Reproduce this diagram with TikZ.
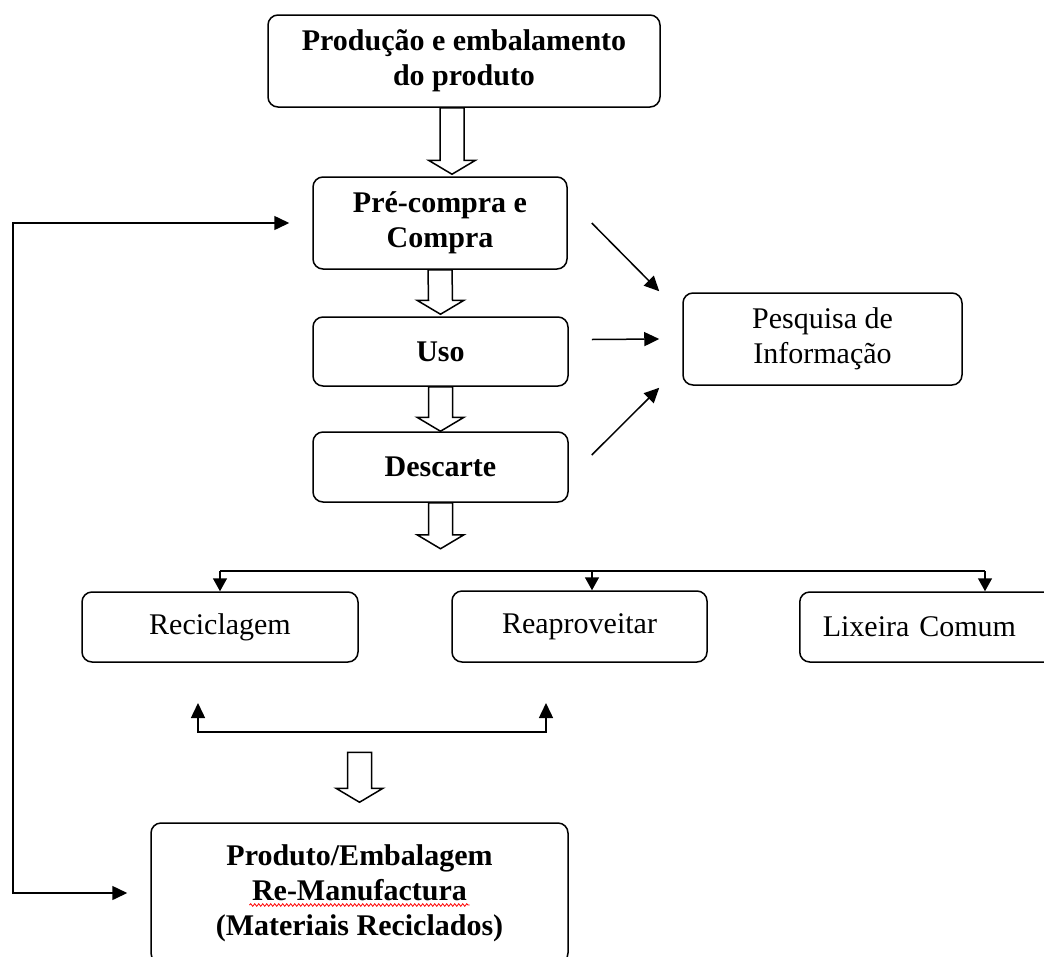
\documentclass[tikz,border=0pt]{standalone}
\usepackage{fontspec}
\setmainfont{Liberation Serif}
\usetikzlibrary{arrows.meta, calc, decorations.pathmorphing}
% hollow block arrow, pointing down, from #1 (top of shaft) to #2 (tip)
\newcommand{\fatarr}[2]{%
  \draw[fatline] ($(#1)+(-12,0)$) -- ($(#2)+(-12,-14)$) -- ($(#2)+(-23.5,-14)$)
    -- (#2) -- ($(#2)+(23.5,-14)$) -- ($(#2)+(12,-14)$) -- ($(#1)+(12,0)$) -- cycle;}

\begin{document}
\begin{tikzpicture}[
  x=1pt, y=-1pt,
  >={Triangle[length=15pt, width=14pt]},
  stage/.style  = {draw, line width=1.5pt, rounded corners=10pt, align=center,
                   inner sep=0pt, font=\fontsize{30}{35}\selectfont\bfseries},
  plainb/.style = {draw, line width=1.5pt, rounded corners=10pt, align=center,
                   inner sep=0pt, font=\fontsize{30}{35}\selectfont},
  fatline/.style= {draw, line width=1.5pt, fill=white, line join=miter},
  lnk/.style    = {line width=1.5pt},
  arr/.style    = {->, line width=1.5pt},
  brarr/.style  = {-{Triangle[length=13pt, width=14pt]}, line width=1.5pt},
  spell/.style  = {red, line width=0.8pt, decorate,
                   decoration={snake, amplitude=1.3pt, segment length=4pt}},
]
\useasboundingbox (0,0) rectangle (1044,956);
\clip (0,0) rectangle (1044,956);

% ---------- main chain (bold boxes) ----------
\node[stage, minimum width=392, minimum height=92] (prod)   at (464,61)
      {Produção e embalamento\\do produto};
\node[stage, minimum width=254, minimum height=92] (compra) at (440,223)
      {Pré-compra e\\Compra};
\node[stage, minimum width=255, minimum height=69] (uso)    at (440.5,351.5) {Uso};
\node[stage, minimum width=255, minimum height=70] (desc)   at (440.5,467) {Descarte};

% ---------- information search ----------
\node[plainb, minimum width=279, minimum height=92] (pesq) at (822.5,339)
      {Pesquisa de\\Informação};

% ---------- destinations ----------
\node[plainb, minimum width=276, minimum height=70] (recic) at (220,627) {Reciclagem};
\node[plainb, minimum width=255, minimum height=71] (reap)  at (579.5,626.5) {Reaproveitar};
\node[plainb, minimum height=70, anchor=west, inner xsep=23pt, text width=215,
      align=left] (lixo) at (799,627) {Lixeira Comum};

% ---------- re-manufacture ----------
\node[stage, minimum width=417, minimum height=140] (remanu) at (359.5,893)
      {Produto/Embalagem\\Re-Manufactura\\(Materiais Reciclados)};
\draw[spell] ($(remanu.center)+(-110,12)$) -- ($(remanu.center)+(110,12)$);

% ---------- hollow arrows down the chain ----------
\coordinate (a1)  at ($(prod.south)+(-12,0)$);
\coordinate (a1t) at ($(a1 |- compra.north)+(0,-2)$);
\fatarr{a1}{a1t}
\coordinate (a2t) at ($(uso.north)+(0,-2)$);
\fatarr{compra.south}{a2t}
\fatarr{uso.south}{desc.north}
\coordinate (a4t) at ($(desc.south)+(0,46)$);
\fatarr{desc.south}{a4t}
\coordinate (a5)  at ($(remanu.north)+(0,-70)$);
\coordinate (a5t) at ($(remanu.north)+(0,-20)$);
\fatarr{a5}{a5t}

% ---------- arrows into Pesquisa de Informacao ----------
\draw[arr] ($(compra.east)+(24,0)$) -- ($(pesq.north west)+(-23,-1)$);
\draw[arr] ($(uso.east)+(23,-12)$)  -- ($(pesq.west)+(-23,0)$);
\draw[arr] ($(desc.east)+(23,-12)$) -- ($(pesq.south west)+(-23,2)$);

% ---------- split to the three destinations ----------
\coordinate (brA) at (220,571);
\coordinate (brB) at (592,571);
\coordinate (brC) at (985,571);
\draw[lnk] (brA) -- (brC);
\draw[brarr] (brA) -- (recic.north);
\draw[brarr] (brB) -- (brB |- reap.north);
\draw[brarr] (brC) -- (brC |- lixo.north);

% ---------- bracket under Reciclagem / Reaproveitar ----------
\coordinate (bkL)  at (198,732);
\coordinate (bkR)  at (546,732);
\coordinate (bkLt) at (198,703);
\coordinate (bkRt) at (546,703);
\draw[lnk, <->] (bkLt) -- (bkL) -- (bkR) -- (bkRt);

% ---------- feedback loop on the left ----------
\coordinate (loopx) at (13,0);
\draw[lnk, <->, shorten <=23pt, shorten >=23pt]
  (remanu.west) -- (remanu.west -| loopx) -- (compra.west -| loopx) -- (compra.west);

\end{tikzpicture}
\end{document}
